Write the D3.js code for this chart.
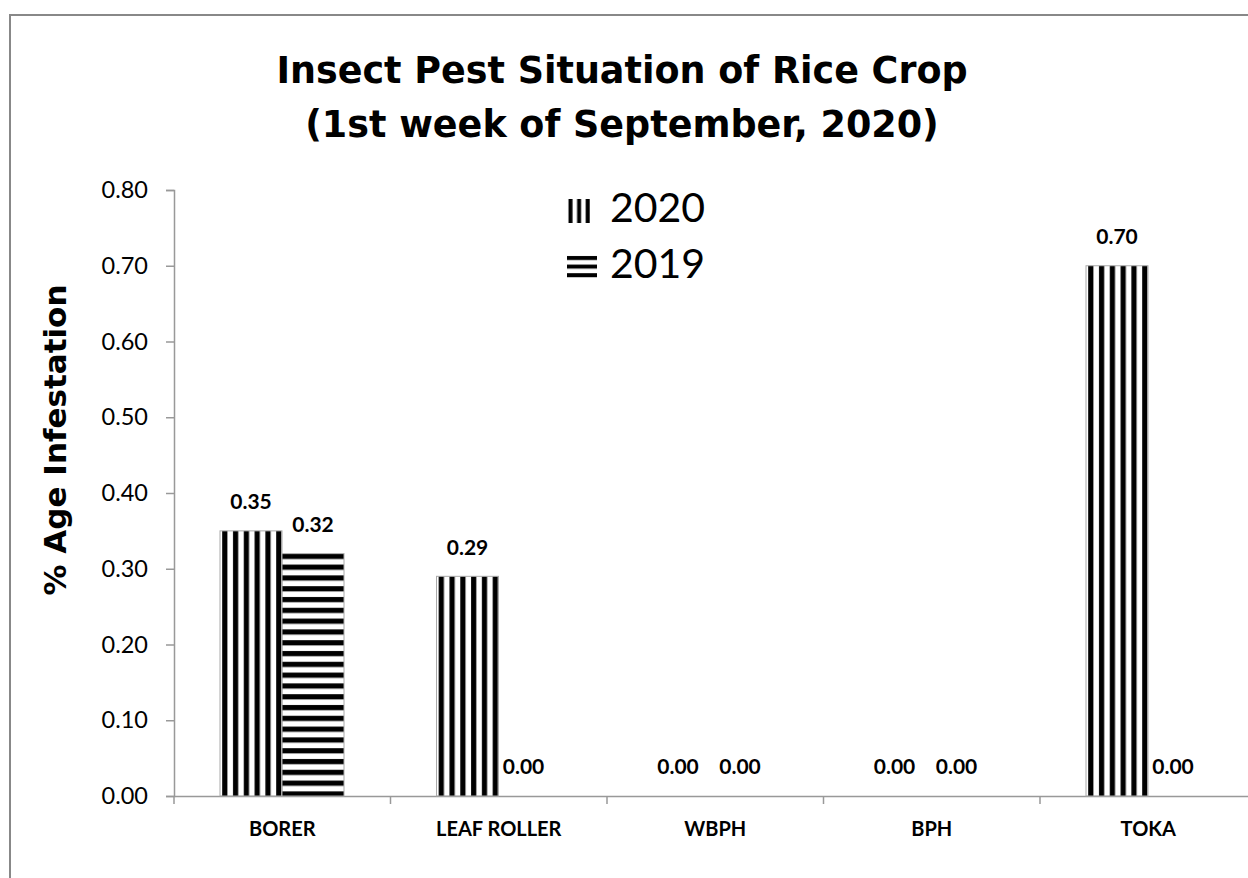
<!DOCTYPE html>
<html>
<head>
<meta charset="utf-8">
<script src="https://cdn.jsdelivr.net/npm/d3@7"></script>
<style>
  body { margin: 0; background: #fff; }
  svg { display: block; }
</style>
</head>
<body>
<svg width="1248" height="878"></svg>
<script>
// data
var categories = ['BORER', 'LEAF ROLLER', 'WBPH', 'BPH', 'TOKA'];
var seriesNames = ['2020', '2019'];
var values2020 = [0.35, 0.29, 0.00, 0.00, 0.70];
var values2019 = [0.32, 0.00, 0.00, 0.00, 0.00];
var yTicks = [0, 0.1, 0.2, 0.3, 0.4, 0.5, 0.6, 0.7, 0.8];

var svg = d3.select("svg");
var labelFont = "Lato, 'Open Sans', sans-serif";
var titleFont = "'DejaVu Sans', Verdana, sans-serif";

// outer chart border
svg.append("rect")
  .attr("x", 10).attr("y", 15)
  .attr("width", 1260).attr("height", 900)
  .attr("fill", "none").attr("stroke", "#888").attr("stroke-width", 2);

// stripe patterns
var defs = svg.append("defs");
function stripes(id, vertical, period, black, offset) {
  var p = defs.append("pattern").attr("id", id)
    .attr("patternUnits", "userSpaceOnUse")
    .attr("width", vertical ? period : 10)
    .attr("height", vertical ? 10 : period);
  if (vertical) {
    p.append("rect").attr("x", offset).attr("width", black).attr("height", 10).attr("fill", "#000");
  } else {
    p.append("rect").attr("y", offset).attr("width", 10).attr("height", black).attr("fill", "#000");
  }
}
stripes("vstripe", true, 10.8, 5.2, 5);
stripes("hstripe", false, 10.8, 5.2, 3);
stripes("vstripeLeg", true, 8.6, 4, 1.5);
stripes("hstripeLeg", false, 8.6, 4, 1);

// scales
var x0 = d3.scaleBand().domain(categories).range([174, 174 + 5 * 216.5]);
var x1 = d3.scaleBand().domain(seriesNames).range([46, 170]);
var y = d3.scaleLinear().domain([0, 0.8]).range([796, 190]);

// y axis
var yAxis = svg.append("g").attr("transform", "translate(174,0)")
  .call(d3.axisLeft(y).tickValues(yTicks).tickFormat(d3.format(".2f")).tickSizeOuter(0).tickSize(8));
yAxis.select(".domain").attr("stroke", "#999").attr("stroke-width", 1.5);
yAxis.selectAll(".tick line").attr("stroke", "#999").attr("stroke-width", 1.5);
yAxis.selectAll(".tick text").attr("x", -26).attr("fill", "#000")
  .style("font-family", labelFont).style("font-size", "23.5px");

// x axis
var xAxis = svg.append("g").attr("transform", "translate(0,796)")
  .call(d3.axisBottom(x0).tickSize(0).tickSizeOuter(0));
xAxis.select(".domain").attr("stroke", "#999").attr("stroke-width", 1.5);
xAxis.selectAll(".tick text").attr("y", 26).attr("fill", "#000")
  .style("font-family", labelFont).style("font-size", "20px").style("font-weight", "bold");
// category separators
svg.append("g").selectAll("line")
  .data(categories)
  .enter()
  .append("line")
  .attr("x1", function(d) { return x0(d); })
  .attr("x2", function(d) { return x0(d); })
  .attr("y1", 796).attr("y2", 804)
  .attr("stroke", "#999").attr("stroke-width", 1.5);

// bars
var rows = categories.map(function(c, i) {
  return { cat: c, vals: [{ s: '2020', v: values2020[i] }, { s: '2019', v: values2019[i] }] };
});
var groups = svg.append("g").selectAll("g")
  .data(rows)
  .enter()
  .append("g")
  .attr("transform", function(d) { return "translate(" + x0(d.cat) + ",0)"; });

groups.selectAll("rect")
  .data(function(d) { return d.vals; })
  .enter()
  .append("rect")
  .attr("x", function(d) { return x1(d.s); })
  .attr("y", function(d) { return y(d.v); })
  .attr("width", x1.bandwidth())
  .attr("height", function(d) { return 796 - y(d.v); })
  .attr("fill", function(d) { return d.s == '2020' ? "url(#vstripe)" : "url(#hstripe)"; })
  .attr("stroke", function(d) { return d.v > 0 ? "#aaa" : "none"; })
  .attr("stroke-width", 1);

groups.selectAll("text")
  .data(function(d) { return d.vals; })
  .enter()
  .append("text")
  .attr("x", function(d) { return x1(d.s) + x1.bandwidth() / 2 + (d.v > 0 ? 0 : -6); })
  .attr("y", function(d) { return y(d.v) - 27; })
  .attr("text-anchor", "middle")
  .attr("dominant-baseline", "middle")
  .style("font-family", labelFont).style("font-size", "21px").style("font-weight", "bold")
  .text(function(d) { return d.v.toFixed(2); });

// title
svg.append("text")
  .attr("x", 622).attr("y", 83)
  .attr("text-anchor", "middle")
  .style("font-family", titleFont).style("font-size", "36.5px").style("font-weight", "bold")
  .text("Insect Pest Situation of Rice Crop");
svg.append("text")
  .attr("x", 622).attr("y", 137)
  .attr("text-anchor", "middle")
  .style("font-family", titleFont).style("font-size", "36.5px").style("font-weight", "bold")
  .text("(1st week of September, 2020)");

// y title
svg.append("text")
  .attr("transform", "translate(66,440) rotate(-90)")
  .attr("text-anchor", "middle")
  .style("font-family", titleFont).style("font-size", "31px").style("font-weight", "bold")
  .text("% Age Infestation");

// legend
var legend = svg.append("g").selectAll("g")
  .data(seriesNames)
  .enter()
  .append("g")
  .attr("transform", function(d, i) { return "translate(567," + (199 + i * 56) + ")"; });
legend.append("rect")
  .attr("width", function(d, i) { return i == 0 ? 26 : 30; })
  .attr("height", 24)
  .attr("fill", function(d, i) { return i == 0 ? "url(#vstripeLeg)" : "url(#hstripeLeg)"; });
legend.append("text")
  .attr("x", 43).attr("y", 13)
  .attr("dominant-baseline", "middle")
  .style("font-family", labelFont).style("font-size", "41px")
  .text(function(d) { return d; });
</script>
</body>
</html>
